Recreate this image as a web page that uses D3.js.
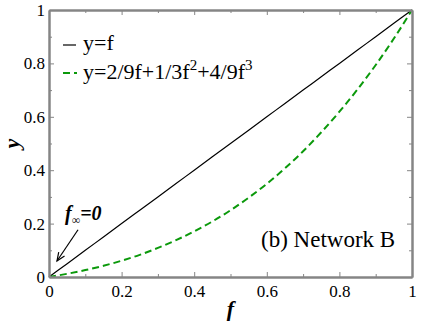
<!DOCTYPE html>
<html>
<head>
<meta charset="utf-8">
<script src="https://cdnjs.cloudflare.com/ajax/libs/d3/7.8.5/d3.min.js"></script>
</head>
<body style="margin:0; background:#fff">
<script>
// data
var fVals = [0, 0.05, 0.1, 0.15, 0.2, 0.25, 0.3, 0.35, 0.4, 0.45, 0.5,
             0.55, 0.6, 0.65, 0.7, 0.75, 0.8, 0.85, 0.9, 0.95, 1];
var yLinear = [0, 0.05, 0.1, 0.15, 0.2, 0.25, 0.3, 0.35, 0.4, 0.45, 0.5,
               0.55, 0.6, 0.65, 0.7, 0.75, 0.8, 0.85, 0.9, 0.95, 1];
var yCubic = [0, 0.012, 0.026, 0.042, 0.061, 0.083, 0.109, 0.138, 0.171, 0.208, 0.25,
              0.297, 0.349, 0.407, 0.471, 0.542, 0.619, 0.703, 0.794, 0.893, 1];
var xTicks = [0, 0.2, 0.4, 0.6, 0.8, 1];
var xTickLabels = ["0", "0.2", "0.4", "0.6", "0.8", "1"];
var yTicks = [0, 0.2, 0.4, 0.6, 0.8, 1];
var yTickLabels = ["0", "0.2", "0.4", "0.6", "0.8", "1"];
var minorTicks = [0.1, 0.3, 0.5, 0.7, 0.9];

var width = 423, height = 327;
var margin = {top: 10, right: 11, bottom: 50, left: 49};
var frameColor = "#858585";
var green = "#0b990b";
var serif = "'Liberation Serif'";

var svg = d3.select("body").append("svg")
    .attr("width", width)
    .attr("height", height)
    .style("font-family", serif);

var x = d3.scaleLinear().domain([0, 1]).range([margin.left, width - margin.right]);
var y = d3.scaleLinear().domain([0, 1]).range([height - margin.bottom, margin.top]);

// curves
var line = d3.line().curve(d3.curveMonotoneX);

svg.append("path")
    .attr("d", line(fVals.map(function(f, i) { return [x(f), y(yLinear[i])]; })))
    .attr("fill", "none")
    .attr("stroke", "#000")
    .attr("stroke-width", 1.2);

svg.append("path")
    .attr("d", line(fVals.map(function(f, i) { return [x(f), y(yCubic[i])]; })))
    .attr("fill", "none")
    .attr("stroke", green)
    .attr("stroke-width", 2)
    .attr("stroke-dasharray", "7,4");

// axes: all four sides, ticks inward
function addAxis(axisFn, scale, transform, ticks, labels) {
  var major = axisFn(scale).tickValues(ticks).tickSize(-5).tickSizeOuter(0)
      .tickPadding(labels ? 8 : 0)
      .tickFormat(function(d, i) { return labels ? labels[i] : ""; });
  var g = svg.append("g").attr("transform", transform).call(major);
  var minor = axisFn(scale).tickValues(minorTicks).tickSize(-3).tickSizeOuter(0).tickFormat("");
  var g2 = svg.append("g").attr("transform", transform).call(minor);
  [g, g2].forEach(function(s) {
    s.attr("font-family", null).attr("font-size", null);
    s.selectAll("path").attr("stroke", frameColor).attr("stroke-width", 2);
    s.selectAll("line").attr("stroke", frameColor).attr("stroke-width", 1);
    s.selectAll("text").style("font-size", "17px").attr("fill", "#000");
  });
  return g;
}

addAxis(d3.axisBottom, x, "translate(0," + y(0) + ")", xTicks, xTickLabels);
addAxis(d3.axisTop, x, "translate(0," + y(1) + ")", xTicks, null);
var gy = addAxis(d3.axisLeft, y, "translate(" + x(0) + ",0)", yTicks, yTickLabels);
gy.selectAll("text").attr("dx", 4);
addAxis(d3.axisRight, y, "translate(" + x(1) + ",0)", yTicks, null);

// axis titles
svg.append("text")
    .attr("x", x(0.5))
    .attr("y", 316)
    .attr("text-anchor", "middle")
    .style("font-size", "22px")
    .attr("font-weight", "bold")
    .attr("font-style", "italic")
    .text("f");

svg.append("text")
    .attr("transform", "translate(19," + y(0.5) + ") rotate(-90)")
    .attr("text-anchor", "middle")
    .style("font-size", "22px")
    .attr("font-weight", "bold")
    .attr("font-style", "italic")
    .text("y");

// legend
var legend = svg.append("g");
legend.append("line")
    .attr("x1", 63).attr("x2", 76).attr("y1", 45).attr("y2", 45)
    .attr("stroke", "#000").attr("stroke-width", 1.2);
legend.append("text")
    .attr("x", 83).attr("y", 50)
    .style("font-size", "22px")
    .text("y=f");

legend.append("line")
    .attr("x1", 63).attr("x2", 77).attr("y1", 73).attr("y2", 73)
    .attr("stroke", green).attr("stroke-width", 2)
    .attr("stroke-dasharray", "7,4");
var t2 = legend.append("text")
    .attr("x", 83).attr("y", 79)
    .style("font-size", "22px");
t2.append("tspan").text("y=2/9f+1/3f");
t2.append("tspan").style("font-size", "15px").attr("dy", -9).text("2");
t2.append("tspan").attr("dy", 9).text("+4/9f");
t2.append("tspan").style("font-size", "15px").attr("dy", -9).text("3");

// panel label
svg.append("text")
    .attr("x", 261).attr("y", 247)
    .style("font-size", "23px")
    .text("(b) Network B");

// annotation f_inf = 0 with arrow
var ann = svg.append("text")
    .attr("x", x(0.044)).attr("y", 220)
    .style("font-size", "20px")
    .attr("font-weight", "bold")
    .attr("font-style", "italic");
ann.append("tspan").text("f");
ann.append("tspan").style("font-size", "12px").attr("dy", 4).text("\u221e");
ann.append("tspan").attr("dy", -4).text("=0");

var ax0 = x(0.08), ay0 = y(0.177), ax1 = x(0.022), ay1 = y(0.06);
svg.append("line")
    .attr("x1", ax0).attr("y1", ay0).attr("x2", ax1).attr("y2", ay1)
    .attr("stroke", "#000").attr("stroke-width", 1.2);
var ang = Math.atan2(ay1 - ay0, ax1 - ax0);
var headLen = 9, spread = 0.4;
svg.append("path")
    .attr("d", "M" + (ax1 - headLen * Math.cos(ang - spread)) + "," + (ay1 - headLen * Math.sin(ang - spread)) +
               "L" + ax1 + "," + ay1 +
               "L" + (ax1 - headLen * Math.cos(ang + spread)) + "," + (ay1 - headLen * Math.sin(ang + spread)))
    .attr("fill", "none")
    .attr("stroke", "#000")
    .attr("stroke-width", 1.2);

svg.selectAll("text").style("font-family", serif);
</script>
</body>
</html>
